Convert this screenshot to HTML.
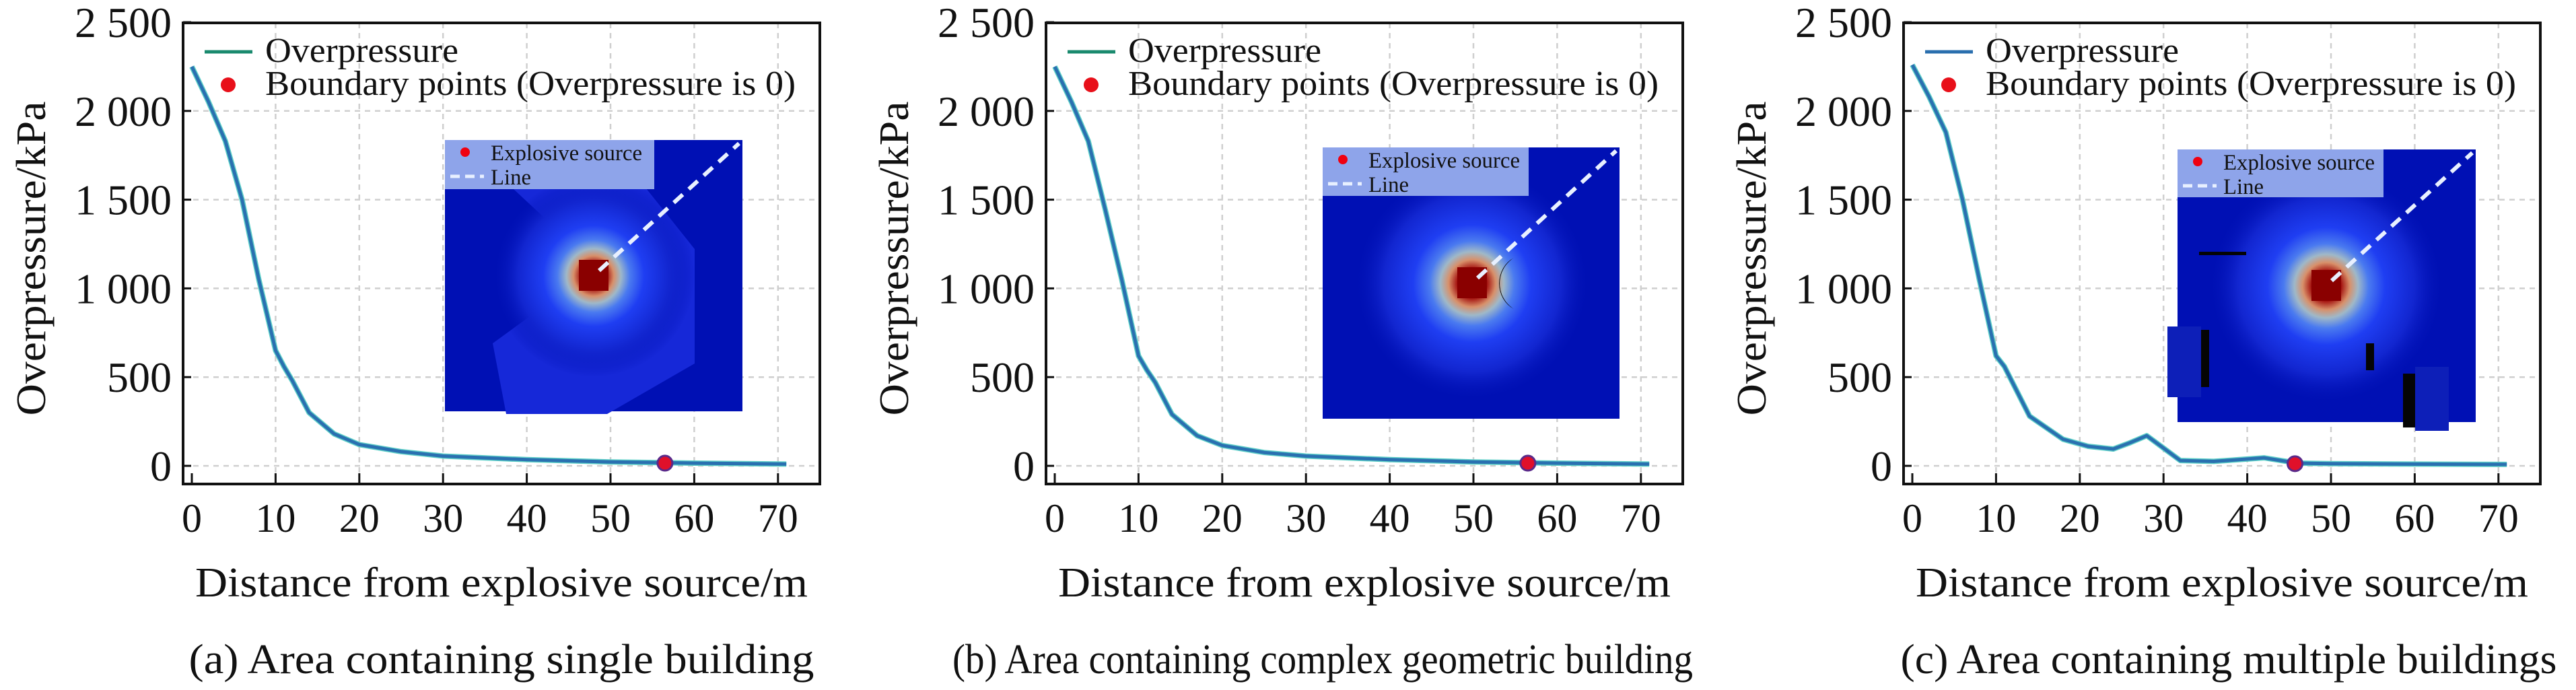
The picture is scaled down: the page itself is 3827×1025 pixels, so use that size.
<!DOCTYPE html>
<html><head><meta charset="utf-8"><style>
html,body{margin:0;padding:0;background:#fff;}
svg{display:block;}
text{font-family:"Liberation Serif",serif;fill:#111;}
</style></head><body>
<svg id="fig" width="3827" height="1025" viewBox="0 0 3827 1025" xmlns="http://www.w3.org/2000/svg">
<defs>
<radialGradient id="glow" cx="0.5" cy="0.5" r="0.5">
<stop offset="0" stop-color="#8a0000"/>
<stop offset="0.12" stop-color="#a00808"/>
<stop offset="0.2" stop-color="#d8906a"/>
<stop offset="0.27" stop-color="#9fb8c8"/>
<stop offset="0.36" stop-color="#4a7af0"/>
<stop offset="0.5" stop-color="#1f3ef2"/>
<stop offset="0.75" stop-color="#1226d0"/>
<stop offset="1" stop-color="#0010b4" stop-opacity="0"/>
</radialGradient>
</defs>
</svg>
<script>
// ---- data ----
const xTicks = [0,10,20,30,40,50,60,70];
const yTicks = [0,500,1000,1500,2000,2500];
const yTickLabels = ["0","500","1 000","1 500","2 000","2 500"];
const distA = [0,2,4,6,8,10,11,12,14,17,20,25,30,40,50,60,71];
const pressA = [2250,2050,1830,1500,1050,650,560,480,300,180,120,80,55,35,22,15,10];
const distB = [0,2,4,6,8,10,11,12,14,17,20,25,30,40,50,60,71];
const pressB = [2250,2050,1830,1450,1050,620,540,470,290,170,115,75,55,35,22,15,10];
const distC = [0,2,4,6,8,10,11,14,18,21,24,26,28,30,32,36,42,44,46,50,60,71];
const pressC = [2260,2080,1880,1500,1050,620,560,280,150,110,95,130,170,100,30,25,45,30,15,12,10,8];
const boundaryX = [56.5,56.5,45.7];
const boundaryY = [15,15,12];
const captions = ["(a) Area containing single building","(b) Area containing complex geometric building","(c) Area containing multiple buildings"];

const NS="http://www.w3.org/2000/svg";
const svg=document.getElementById('fig');
function mk(tag,attrs,parent){const e=document.createElementNS(NS,tag);for(const k in attrs)e.setAttribute(k,attrs[k]);(parent||svg).appendChild(e);return e;}

const panelLefts=[272,1554,2828];
const insets=[
 {x:661,y:208,w:442,h:403,lw:311,lh:73,sx:882,sy:410,kind:'a'},
 {x:1965,y:219,w:441,h:403,lw:306,lh:72,sx:2187,sy:421,kind:'b'},
 {x:3235,y:222,w:443,h:405,lw:306,lh:71,sx:3456,sy:425,kind:'c'}
];
const series=[[distA,pressA],[distB,pressB],[distC,pressC]];
const legendLineColor=["#1a8a6e","#1a8a6e","#2a6fae"];

panelLefts.forEach((L,i)=>{
  const g=mk('g',{});
  
  
  const R=L+946, T=34, B=719;
  const xs=v=>L+13+v*12.44;
  const ys=v=>692-v*0.2636;
  // grid
  xTicks.forEach(t=>{ if(t===0) return;
    const l=mk('line',{x1:xs(t),x2:xs(t),y1:T,y2:B,stroke:'#cfcfcf','stroke-width':2.5,'stroke-dasharray':'8 7'},g);
    
    
  });
  yTicks.forEach(t=>{ if(t===2500) return;
    const l=mk('line',{x1:L,x2:R,y1:ys(t),y2:ys(t),stroke:'#cfcfcf','stroke-width':2.5,'stroke-dasharray':'8 7'},g);
    
    
  });
  // inset heatmap
  const ins=insets[i];
  const ig=mk('g',{},g);
  
  
  mk('rect',{x:ins.x,y:ins.y,width:ins.w,height:ins.h,fill:'#0010b4'},ig);
  if(ins.kind==='a'){
    mk('polygon',{points:`${ins.sx-120},${ins.sy-130} ${ins.sx+70},${ins.sy-140} ${ins.sx+150},${ins.sy-40} ${ins.sx+150},${ins.sy+130} ${ins.sx+20},${ins.sy+205} ${ins.sx-130},${ins.sy+205} ${ins.sx-150},${ins.sy+100} ${ins.sx-40},${ins.sy+20} ${ins.sx-45},${ins.sy-60}`,fill:'#1628d8'},ig);
  }
  mk('circle',{cx:ins.sx,cy:ins.sy,r:ins.kind==='a'?150:175,fill:'url(#glow)'},ig);
  mk('rect',{x:ins.sx-22,y:ins.sy-24,width:44,height:46,fill:'#8a0000'},ig);
  if(ins.kind==='b'){
    mk('path',{d:`M ${ins.sx+62} ${ins.sy-38} A 45 45 0 0 0 ${ins.sx+62} ${ins.sy+38} A 38 42 0 0 1 ${ins.sx+62} ${ins.sy-38} Z`,fill:'#000'},ig);
  }
  if(ins.kind==='c'){
    mk('rect',{x:3220,y:485,width:50,height:105,fill:'#0d1fb8'},ig);
    mk('rect',{x:3270,y:490,width:12,height:85,fill:'#050505'},ig);
    mk('rect',{x:3267,y:374,width:70,height:5,fill:'#050505'},ig);
    mk('rect',{x:3515,y:510,width:12,height:40,fill:'#050505'},ig);
    mk('rect',{x:3570,y:555,width:18,height:80,fill:'#050505'},ig);
    mk('rect',{x:3588,y:545,width:50,height:95,fill:'#0d1fb8'},ig);
  }
  const dl=mk('line',{x1:ins.sx+8,y1:ins.sy-8,x2:ins.x+ins.w-5,y2:ins.y+5,stroke:'#e8f0ff','stroke-width':6,'stroke-dasharray':'18 12'},ig);
  
  
  const lb=mk('rect',{x:ins.x,y:ins.y,width:ins.lw,height:ins.lh,fill:'#8ea4ea'},ig);
  
  
  mk('circle',{cx:ins.x+30,cy:ins.y+18,r:7,fill:'#f00010'},ig);
  mk('line',{x1:ins.x+8,x2:ins.x+58,y1:ins.y+54,y2:ins.y+54,stroke:'#e8f0ff','stroke-width':5,'stroke-dasharray':'14 8'},ig);
  const t1=mk('text',{x:ins.x+68,y:ins.y+30,'font-size':33,textLength:225,lengthAdjust:'spacingAndGlyphs'},ig);t1.textContent='Explosive source';
  
  
  const t2=mk('text',{x:ins.x+68,y:ins.y+66,'font-size':33,textLength:60,lengthAdjust:'spacingAndGlyphs'},ig);t2.textContent='Line';
  
  
  // frame
  const fr=mk('rect',{x:L,y:T,width:R-L,height:B-T,fill:'none',stroke:'#111','stroke-width':4},g);
  
  
  // series
  const [dx,dy]=series[i];
  const pts=dx.map((d,k)=>xs(d).toFixed(1)+','+ys(dy[k]).toFixed(1)).join(' ');
  const under=mk('polyline',{points:pts,fill:'none',stroke:'#5fd0c8','stroke-width':8,'stroke-linejoin':'round'},g);
  
  
  const ln=mk('polyline',{points:pts,fill:'none',stroke:'#2a70b0','stroke-width':5,'stroke-linejoin':'round'},g);
  
  
  const bp=mk('circle',{cx:xs(boundaryX[i]),cy:ys(boundaryY[i]),r:11,fill:'#e0102a',stroke:'#5a2a8a','stroke-width':3},g);
  
  
  // ticks
  xTicks.forEach(t=>{
    mk('line',{x1:xs(t),x2:xs(t),y1:B,y2:B-16,stroke:'#111','stroke-width':3},g);
    const tx=mk('text',{x:xs(t),y:790,'font-size':60,'text-anchor':'middle'},g);tx.textContent=t;
    
    
  });
  yTicks.forEach((t,k)=>{
    mk('line',{x1:L,x2:L+12,y1:ys(t),y2:ys(t),stroke:'#111','stroke-width':3},g);
    const ty=mk('text',{x:L-17,y:ys(t)+22,'font-size':64,'text-anchor':'end'},g);ty.textContent=yTickLabels[k];
    
    
  });
  // axis titles
  const yt=mk('text',{x:0,y:0,'font-size':62,'text-anchor':'middle',transform:`translate(${L-205},384) rotate(-90)`,textLength:467,lengthAdjust:'spacingAndGlyphs'},g);
  yt.textContent='Overpressure/kPa';
  
  
  const xt=mk('text',{x:L+473,y:886,'font-size':62,'text-anchor':'middle',textLength:910,lengthAdjust:'spacingAndGlyphs'},g);
  xt.textContent='Distance from explosive source/m';
  
  
  const capW=[929,1100,975][i];
  const cap=mk('text',{x:L+473+[0,-62,10][i],y:1000,'font-size':62,'text-anchor':'middle',textLength:capW,lengthAdjust:'spacingAndGlyphs'},g);
  cap.textContent=captions[i];
  
  
  // legend
  const lg=mk('g',{},g);
  
  
  mk('line',{x1:L+32,x2:L+103,y1:77,y2:77,stroke:legendLineColor[i],'stroke-width':5},lg);
  const l1=mk('text',{x:L+122,y:92,'font-size':52,textLength:287,lengthAdjust:'spacingAndGlyphs'},lg);l1.textContent='Overpressure';
  
  
  mk('circle',{cx:L+67,cy:126,r:11,fill:'#e8101a'},lg);
  const l2=mk('text',{x:L+122,y:141,'font-size':52,textLength:788,lengthAdjust:'spacingAndGlyphs'},lg);l2.textContent='Boundary points (Overpressure is 0)';
  
  
});
</script>
</body></html>
